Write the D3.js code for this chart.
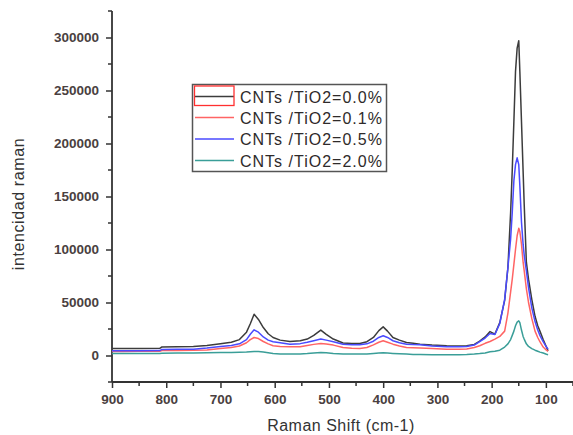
<!DOCTYPE html>
<html>
<head>
<meta charset="utf-8">
<script src="https://cdn.jsdelivr.net/npm/d3@7/dist/d3.min.js"></script>
<style>
  html, body { margin: 0; padding: 0; background: #fff; }
  svg { display: block; }
</style>
</head>
<body>
<svg id="chart" width="573" height="435"></svg>
<script>
// ---- data ----
const shift = [900, 880, 850, 812, 808, 780, 750, 725, 700, 680, 665, 652, 645, 638, 630, 621, 612, 603, 590, 572,
  553, 540, 528, 515, 505, 492, 474, 458, 443, 430, 418, 408, 400, 392, 382, 370, 357, 345, 332, 310,
  283, 260, 246, 232, 222, 212, 203, 194, 185, 176, 170, 165, 162, 159, 156, 153, 150, 148, 145, 142,
  140, 136, 132, 126, 120, 115, 111, 105, 99, 96];

const tio2_00 = [6600, 6600, 6700, 6800, 8000, 8200, 8500, 9400, 11000, 12500, 15000, 22000, 30000, 39000, 34000, 26400, 20500, 17000, 14500, 13300,
  13900, 15500, 19000, 24000, 20000, 15500, 11800, 11400, 11400, 13000, 17000, 23500, 27000, 23000, 17000, 14500, 12300, 11500, 10700, 9800,
  9200, 9000, 9200, 10500, 13500, 17500, 22600, 20200, 31000, 52000, 83000, 135000, 175000, 221000, 268000, 290000, 297000, 268000, 221000, 174000,
  143000, 88000, 72000, 53000, 37000, 28000, 23000, 15000, 8000, 4400];

const tio2_01 = [3800, 3800, 3900, 4000, 4700, 4800, 5000, 5100, 6500, 7500, 9000, 12000, 15000, 17000, 16000, 13200, 11000, 9200, 8500, 8200,
  8300, 9500, 10500, 11300, 10800, 9800, 7500, 6800, 6600, 7500, 10000, 12500, 13900, 12500, 10700, 9000, 7500, 7200, 7000, 6500,
  6000, 6000, 6200, 7500, 9200, 11500, 13200, 15500, 18000, 23000, 40000, 60000, 72000, 86000, 100000, 113000, 120000, 117000, 105000, 88000,
  80000, 63000, 50000, 35000, 23000, 17000, 13000, 8000, 5000, 4000];

const tio2_05 = [4400, 4400, 4500, 4600, 5700, 5800, 6000, 7000, 8500, 9500, 11000, 15000, 20000, 24200, 22000, 17500, 14500, 13000, 12000, 10700,
  11200, 12500, 14000, 15500, 14500, 13000, 10700, 10100, 10100, 11000, 13500, 17000, 18600, 17000, 13900, 12000, 10700, 10300, 10100, 9000,
  8200, 8200, 8500, 9800, 13000, 16500, 20800, 19800, 30200, 53000, 83000, 110000, 135000, 165000, 180000, 186500, 180000, 160000, 126000, 105000,
  95000, 80000, 64000, 45000, 32000, 24000, 19000, 13000, 8000, 6000];

const tio2_20 = [1900, 1900, 2000, 2000, 2200, 2300, 2400, 2500, 2800, 2800, 3000, 3300, 3600, 3800, 3700, 3200, 2500, 1800, 1400, 1300,
  1500, 1800, 2300, 2800, 2600, 2000, 1400, 1300, 1300, 1500, 2000, 2400, 2500, 2300, 2000, 1600, 1300, 1000, 900, 800,
  700, 800, 1000, 1400, 1800, 2400, 3500, 4000, 5000, 8000, 11000, 15000, 19000, 23000, 28000, 31500, 32700, 31000, 24000, 18000,
  15500, 11000, 8500, 6500, 5000, 4000, 3200, 2300, 1200, 700];

const seriesNames = ["CNTs /TiO2=0.0%", "CNTs /TiO2=0.1%", "CNTs /TiO2=0.5%", "CNTs /TiO2=2.0%"];
const seriesColors = ["#3c3c3c", "#ff6464", "#4a4aff", "#3a9e98"];
const seriesValues = [tio2_00, tio2_01, tio2_05, tio2_20];

const xTicks = [900, 800, 700, 600, 500, 400, 300, 200, 100];
const yTicks = [0, 50000, 100000, 150000, 200000, 250000, 300000];
const xLabel = "Raman Shift (cm-1)";
const yLabel = "intencidad raman";

// ---- layout ----
const svg = d3.select("#chart");
const mLeft = 112, mRight = 573, mTop = 11, mBottom = 382;

const x = d3.scaleLinear().domain([900, 50]).range([mLeft, mRight]);
const y = d3.scaleLinear().domain([-25000, 325000]).range([mBottom, mTop]);

const axisColor = "#333";
const tickFont = "bold 13.5px Arial, 'Liberation Sans', sans-serif";

// minor ticks
const xMinor = d3.range(50, 901, 50).filter(v => v % 100 !== 0);
const yMinor = d3.range(-25000, 325001, 50000);

const gx = svg.append("g").attr("transform", `translate(0,${mBottom})`);
gx.call(d3.axisBottom(x).tickValues(xTicks).tickSize(6).tickSizeOuter(0).tickFormat(d3.format("d")));
gx.append("g").selectAll("line").data(xMinor).join("line")
  .attr("x1", d => x(d)).attr("x2", d => x(d)).attr("y1", 0).attr("y2", 4)
  .attr("stroke", axisColor).attr("stroke-width", 1.5);

const gy = svg.append("g").attr("transform", `translate(${mLeft},0)`);
gy.call(d3.axisLeft(y).tickValues(yTicks).tickSize(6).tickSizeOuter(0).tickFormat(d3.format("d")));
gy.append("g").selectAll("line").data(yMinor).join("line")
  .attr("y1", d => y(d)).attr("y2", d => y(d)).attr("x1", 0).attr("x2", -4)
  .attr("stroke", axisColor).attr("stroke-width", 1.5);

[gx, gy].forEach(g => {
  g.select(".domain").attr("stroke", axisColor).attr("stroke-width", 1.8);
  g.selectAll(".tick line").attr("stroke", axisColor).attr("stroke-width", 1.5);
  g.selectAll(".tick text").style("font", tickFont).attr("fill", "#4a4040");
});
gx.select(".domain").attr("d", `M${mLeft},0H${mRight}`);
gy.select(".domain").attr("d", `M0,${mBottom}V${mTop}`);
gx.selectAll(".tick text").attr("dy", "0.95em").attr("y", 9);
gy.selectAll(".tick text").attr("x", -13);

// axis titles
svg.append("text")
  .attr("x", 341).attr("y", 431)
  .attr("text-anchor", "middle")
  .style("font", "16px Arial, 'Liberation Sans', sans-serif")
  .style("letter-spacing", "0.5px")
  .attr("fill", "#333")
  .text(xLabel);

svg.append("text")
  .attr("transform", "translate(24,204) rotate(-90)")
  .attr("text-anchor", "middle")
  .style("font", "16px Arial, 'Liberation Sans', sans-serif")
  .style("letter-spacing", "0.6px")
  .attr("fill", "#333")
  .text(yLabel);

// lines
const line = d3.line().x((d, i) => x(shift[i])).y(d => y(d));
[0, 1, 2, 3].forEach(k => {
  svg.append("path")
    .datum(seriesValues[k])
    .attr("fill", "none")
    .attr("stroke", seriesColors[k])
    .attr("stroke-width", 1.5)
    .attr("stroke-linejoin", "round")
    .attr("d", line);
});

// legend
const lg = svg.append("g");
lg.append("rect")
  .attr("x", 192.5).attr("y", 84.5).attr("width", 194).attr("height", 87)
  .attr("fill", "#fff").attr("stroke", "#555").attr("stroke-width", 1.5);
const rowY = [96.5, 117.5, 139, 160.5];
seriesNames.forEach((name, i) => {
  lg.append("line")
    .attr("x1", 195).attr("x2", 234).attr("y1", rowY[i]).attr("y2", rowY[i])
    .attr("stroke", seriesColors[i]).attr("stroke-width", 1.5);
  lg.append("text")
    .attr("x", 240).attr("y", rowY[i] + 6)
    .style("font", "16px Arial, 'Liberation Sans', sans-serif")
    .style("letter-spacing", "1px")
    .attr("fill", "#2e2a2a")
    .text(name);
});
lg.append("rect")
  .attr("x", 194.5).attr("y", 86).attr("width", 39.5).attr("height", 19.5)
  .attr("fill", "none").attr("stroke", "#ff3030").attr("stroke-width", 1.3);
</script>
</body>
</html>
